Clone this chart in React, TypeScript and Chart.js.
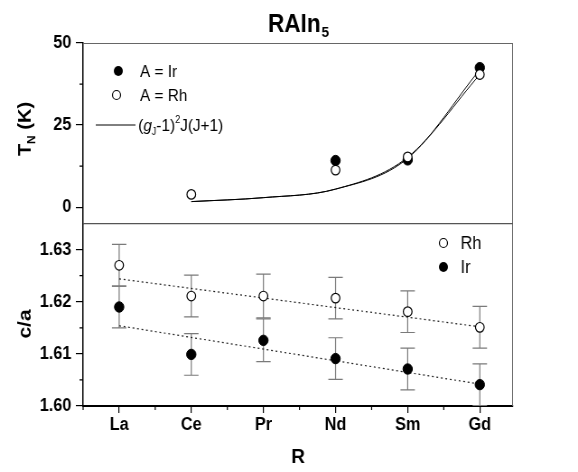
import { useEffect, useRef } from 'react';
import { Chart, registerables } from 'chart.js';

Chart.register(...registerables);

// Rare-earth sites along the horizontal axis
const elements = ['La', 'Ce', 'Pr', 'Nd', 'Sm', 'Gd'];
const tnTicks = [0, 25, 50];
const caTicks = [1.6, 1.61, 1.62, 1.63];

// Néel temperatures T_N (K); null where the compound does not order
const tnIr: (number | null)[] = [null, null, null, 14.2, 14.4, 42.5];
const tnRh: (number | null)[] = [null, 3.9, null, 11.3, 15.3, 40.4];

// de Gennes scaling (g_J-1)^2 J(J+1), scaled to the Ir and Rh series
const dgIr: (number | null)[] = [null, 1.7, 2.9, 5.5, 14.9, 41.9];
const dgRh: (number | null)[] = [null, 1.7, 2.9, 5.5, 15.2, 40.4];

// c/a ratios with error bars
const caRh = [1.627, 1.6211, 1.6211, 1.6207, 1.6181, 1.6151];
const caRhErr = [0.004, 0.004, 0.0042, 0.004, 0.004, 0.004];
const caIr = [1.619, 1.6099, 1.6126, 1.6091, 1.6071, 1.6041];
const caIrErr = [0.004, 0.004, 0.0041, 0.004, 0.004, 0.004];

// Linear fits of c/a (values at La and Gd)
const fitRh = [1.6244, 1.6152];
const fitIr = [1.6154, 1.6042];

const FONT = "'Liberation Sans', Arial, Helvetica, sans-serif";

// The figure is laid out on a 640-wide drawing surface and shown 578 wide,
// which gives the narrow lettering of the printed plot.
const DRAW_W = 640;
const DRAW_H = 472;
const SHOW_W = 578;

const pts = (arr: (number | null)[]) =>
  arr.flatMap((y, i) => (y === null ? [] : [{ x: i, y }]));
const fitPts = (arr: number[]) => [
  { x: 0, y: arr[0] },
  { x: elements.length - 1, y: arr[1] },
];

const decor = {
  id: 'decor',
  beforeDatasetsDraw(chart: any) {
    const { ctx, chartArea, scales } = chart;
    const x = scales.x;
    const y = scales.yB;
    ctx.save();
    ctx.beginPath();
    ctx.rect(chartArea.left, y.top, chartArea.right - chartArea.left, y.bottom - y.top);
    ctx.clip();
    ctx.strokeStyle = '#7a7a7a';
    ctx.lineWidth = 1.2;
    const bars = (vals: number[], errs: number[]) => {
      vals.forEach((v, i) => {
        const px = x.getPixelForValue(i);
        const top = y.getPixelForValue(v + errs[i]);
        const bot = y.getPixelForValue(v - errs[i]);
        ctx.beginPath();
        ctx.moveTo(px, top);
        ctx.lineTo(px, bot);
        ctx.moveTo(px - 8, top);
        ctx.lineTo(px + 8, top);
        ctx.moveTo(px - 8, bot);
        ctx.lineTo(px + 8, bot);
        ctx.stroke();
      });
    };
    bars(caRh, caRhErr);
    bars(caIr, caIrErr);
    ctx.restore();
  },
  afterDraw(chart: any) {
    const { ctx, chartArea, scales } = chart;
    const { left, right, top, bottom } = chartArea;
    const x = scales.x;
    const yT = scales.yT;
    const yB = scales.yB;
    ctx.save();

    // frame: light top/right edges, separator between panels
    ctx.strokeStyle = '#666';
    ctx.lineWidth = 1;
    ctx.beginPath();
    ctx.moveTo(left, top + 0.5);
    ctx.lineTo(right, top + 0.5);
    ctx.moveTo(right - 0.5, top);
    ctx.lineTo(right - 0.5, bottom);
    ctx.stroke();
    ctx.strokeStyle = '#555';
    ctx.lineWidth = 1.2;
    ctx.beginPath();
    ctx.moveTo(left, yT.bottom);
    ctx.lineTo(right, yT.bottom);
    ctx.stroke();

    // minor ticks
    ctx.strokeStyle = '#000';
    ctx.lineWidth = 1.2;
    ctx.beginPath();
    [12.5, 37.5].forEach((v) => {
      const py = yT.getPixelForValue(v);
      ctx.moveTo(left - 4, py);
      ctx.lineTo(left, py);
    });
    [1.605, 1.615, 1.625].forEach((v) => {
      const py = yB.getPixelForValue(v);
      ctx.moveTo(left - 4, py);
      ctx.lineTo(left, py);
    });
    for (let i = 0; i < elements.length; i++) {
      const px = x.getPixelForValue(i - 0.5);
      ctx.moveTo(px, bottom);
      ctx.lineTo(px, bottom + 4);
    }
    ctx.stroke();

    ctx.fillStyle = '#000';
    ctx.textBaseline = 'alphabetic';
    ctx.textAlign = 'left';

    // title RAIn5
    const cx = (left + right) / 2;
    ctx.font = `bold 25px ${FONT}`;
    const w1 = ctx.measureText('RAIn').width;
    ctx.font = `bold 15px ${FONT}`;
    const w2 = ctx.measureText('5').width;
    const tx = cx - (w1 + w2) / 2;
    ctx.font = `bold 25px ${FONT}`;
    ctx.fillText('RAIn', tx, 32);
    ctx.font = `bold 15px ${FONT}`;
    ctx.fillText('5', tx + w1 + 1, 37);

    // x-axis title
    ctx.font = `bold 21px ${FONT}`;
    ctx.textAlign = 'center';
    ctx.fillText('R', cx, 463);
    ctx.textAlign = 'left';

    // rotated y-axis titles
    const rotated = (bx: number, cy: number, parts: { t: string; f: string; dy: number }[]) => {
      ctx.save();
      ctx.translate(bx, cy);
      ctx.rotate(-Math.PI / 2);
      let total = 0;
      parts.forEach((p) => {
        ctx.font = p.f;
        total += ctx.measureText(p.t).width;
      });
      let px = -total / 2;
      parts.forEach((p) => {
        ctx.font = p.f;
        ctx.fillText(p.t, px, p.dy);
        px += ctx.measureText(p.t).width;
      });
      ctx.restore();
    };
    rotated(34, 129, [
      { t: 'T', f: `bold 20px ${FONT}`, dy: 0 },
      { t: 'N', f: `bold 12px ${FONT}`, dy: 5 },
      { t: ' (K)', f: `bold 20px ${FONT}`, dy: 0 },
    ]);
    rotated(34, 324, [{ t: 'c/a', f: `bold 21px ${FONT}`, dy: 0 }]);

    // legend, upper panel
    const dot = (px: number, py: number, filled: boolean) => {
      ctx.beginPath();
      ctx.arc(px, py, filled ? 5 : 4.5, 0, Math.PI * 2);
      if (filled) {
        ctx.fillStyle = '#000';
        ctx.fill();
      } else {
        ctx.fillStyle = '#fff';
        ctx.fill();
        ctx.strokeStyle = '#000';
        ctx.lineWidth = 1.2;
        ctx.stroke();
      }
      ctx.fillStyle = '#000';
    };
    const reg = `17px ${FONT}`;
    const small = `10px ${FONT}`;
    dot(131, 71, true);
    ctx.font = reg;
    ctx.fillText('A = Ir', 155, 77);
    dot(129, 95, false);
    ctx.font = reg;
    ctx.fillText('A = Rh', 155, 101);
    ctx.strokeStyle = '#000';
    ctx.lineWidth = 1;
    ctx.beginPath();
    ctx.moveTo(106, 125);
    ctx.lineTo(150, 125);
    ctx.stroke();
    let lx = 153;
    const seg = (t: string, f: string, dy: number) => {
      ctx.font = f;
      ctx.fillText(t, lx, 131 + dy);
      lx += ctx.measureText(t).width;
    };
    seg('(', reg, 0);
    seg('g', `italic 17px ${FONT}`, 0);
    seg('J', small, 4);
    seg('-1)', reg, 0);
    seg('2', small, -8);
    seg('J(J+1)', reg, 0);

    // legend, lower panel
    dot(491, 243, false);
    ctx.font = `18px ${FONT}`;
    ctx.fillText('Rh', 510, 249);
    dot(491, 267, true);
    ctx.font = `18px ${FONT}`;
    ctx.fillText('Ir', 510, 273);

    ctx.restore();
  },
};

export default function App() {
  const ref = useRef<HTMLCanvasElement>(null);

  useEffect(() => {
    if (!ref.current) return;
    const tickFont = { family: FONT, weight: 'bold' as const, size: 18 };
    const yGrid = {
      display: true,
      drawOnChartArea: false,
      drawTicks: true,
      tickLength: 8,
      color: '#000',
      lineWidth: 1.2,
    };
    const chart = new Chart(ref.current, {
      type: 'scatter',
      data: {
        datasets: [
          {
            label: 'A = Rh',
            data: pts(tnRh),
            yAxisID: 'yT',
            pointRadius: 4.8,
            pointBackgroundColor: '#fff',
            pointBorderColor: '#000',
            pointBorderWidth: 1.2,
            order: 0,
          },
          {
            label: 'A = Ir',
            data: pts(tnIr),
            yAxisID: 'yT',
            pointRadius: 5.2,
            pointBackgroundColor: '#000',
            pointBorderColor: '#000',
            order: 1,
          },
          {
            label: 'de Gennes (Ir)',
            data: pts(dgIr),
            yAxisID: 'yT',
            showLine: true,
            pointRadius: 0,
            borderColor: '#000',
            borderWidth: 1,
            cubicInterpolationMode: 'monotone',
            order: 2,
          },
          {
            label: 'de Gennes (Rh)',
            data: pts(dgRh),
            yAxisID: 'yT',
            showLine: true,
            pointRadius: 0,
            borderColor: '#000',
            borderWidth: 1,
            cubicInterpolationMode: 'monotone',
            order: 2,
          },
          {
            label: 'Rh',
            data: caRh.map((y, i) => ({ x: i, y })),
            yAxisID: 'yB',
            pointRadius: 4.8,
            pointBackgroundColor: '#fff',
            pointBorderColor: '#000',
            pointBorderWidth: 1.2,
            order: 0,
          },
          {
            label: 'Ir',
            data: caIr.map((y, i) => ({ x: i, y })),
            yAxisID: 'yB',
            pointRadius: 5.2,
            pointBackgroundColor: '#000',
            pointBorderColor: '#000',
            order: 0,
          },
          {
            label: 'fit Rh',
            data: fitPts(fitRh),
            yAxisID: 'yB',
            showLine: true,
            pointRadius: 0,
            borderColor: '#222',
            borderWidth: 1.2,
            borderDash: [2, 3],
            order: 3,
          },
          {
            label: 'fit Ir',
            data: fitPts(fitIr),
            yAxisID: 'yB',
            showLine: true,
            pointRadius: 0,
            borderColor: '#222',
            borderWidth: 1.2,
            borderDash: [2, 3],
            order: 3,
          },
        ],
      },
      options: {
        animation: false,
        responsive: false,
        maintainAspectRatio: false,
        devicePixelRatio: 1,
        layout: { padding: { top: 43, right: DRAW_W - 568, bottom: 0, left: 0 } },
        plugins: { legend: { display: false }, tooltip: { enabled: false } },
        scales: {
          x: {
            type: 'linear',
            min: -0.5,
            max: 5.46,
            afterBuildTicks: (s: any) => {
              s.ticks = elements.map((_, i) => ({ value: i }));
            },
            afterFit: (s: any) => {
              s.height = 66;
            },
            ticks: {
              callback: (v: any) => elements[v] ?? '',
              font: tickFont,
              color: '#000',
              padding: 1,
              maxRotation: 0,
              autoSkip: false,
            },
            grid: {
              display: true,
              drawOnChartArea: false,
              drawTicks: true,
              tickLength: 7,
              color: '#000',
              lineWidth: 1.2,
            },
            border: { display: true, color: '#000', width: 2 },
          },
          // lower panel is listed first so the stack places it underneath
          yB: {
            type: 'linear',
            position: 'left',
            stack: 'panels',
            stackWeight: 182.4,
            min: 1.6,
            max: 1.635,
            afterBuildTicks: (s: any) => {
              s.ticks = caTicks.map((value) => ({ value }));
            },
            afterFit: (s: any) => {
              s.width = 92;
            },
            ticks: {
              font: tickFont,
              color: '#000',
              padding: 5,
              callback: (v: any) => Number(v).toFixed(2),
            },
            grid: yGrid,
            border: { display: true, color: '#000', width: 1.5 },
          },
          yT: {
            type: 'linear',
            position: 'left',
            stack: 'panels',
            stackWeight: 180.6,
            min: -5,
            max: 50,
            afterBuildTicks: (s: any) => {
              s.ticks = tnTicks.map((value) => ({ value }));
            },
            afterFit: (s: any) => {
              s.width = 92;
            },
            ticks: { font: tickFont, color: '#000', padding: 5 },
            grid: yGrid,
            border: { display: true, color: '#000', width: 1.5 },
          },
        },
      },
      plugins: [decor],
    });
    return () => chart.destroy();
  }, []);

  return (
    <div style={{ position: 'fixed', left: 0, top: 0, width: SHOW_W, height: DRAW_H, background: '#fff' }}>
      <canvas
        ref={ref}
        width={DRAW_W}
        height={DRAW_H}
        style={{ display: 'block', width: `${SHOW_W}px`, height: `${DRAW_H}px` }}
      />
    </div>
  );
}
